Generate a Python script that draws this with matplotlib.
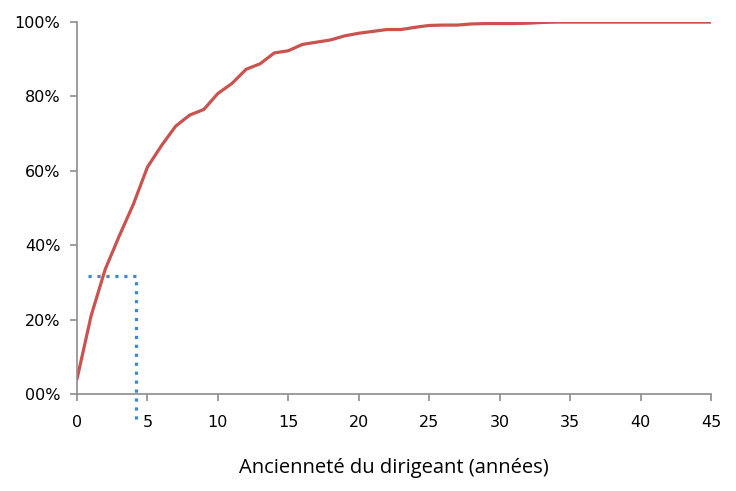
import numpy as np
import matplotlib.pyplot as plt
from matplotlib.ticker import FuncFormatter

# cumulative share of managers by tenure (years)
years = list(range(0, 46))
cum_share = [4, 21, 33.5, 42.5, 51, 61, 66.8, 72, 75, 76.5,
             80.8, 83.5, 87.3, 88.8, 91.7, 92.3, 94, 94.6, 95.2, 96.3,
             97, 97.5, 98, 98, 98.6, 99.1, 99.2, 99.2, 99.5, 99.6,
             99.6, 99.6, 99.7, 99.9, 100, 100, 100, 100, 100, 100,
             100, 100, 100, 100, 100, 100]

# dotted guide line
guide_x = [0.8, 4.2, 4.2]
guide_y = [31.7, 31.7, -7.4]

x_ticks = [0, 5, 10, 15, 20, 25, 30, 35, 40, 45]
y_ticks = [0, 20, 40, 60, 80, 100]

fig = plt.figure(figsize=(7.36, 4.91), dpi=100)
ax = fig.add_axes([0.1046, 0.1976, 0.8614, 0.7574])

ax.plot(years, np.array(cum_share), color='#C9534F', lw=2.3, solid_capstyle='round')
ax.plot(guide_x, guide_y, color='#3F87D4', lw=2.3, linestyle=(0, (1, 1.8)),
        dash_capstyle='butt', clip_on=False)

ax.set_xlim(0, 45)
ax.set_ylim(0, 100)
ax.set_xticks(x_ticks)
ax.set_yticks(y_ticks)
ax.yaxis.set_major_formatter(FuncFormatter(lambda v, p: '%02d%%' % v))

for s in ['top', 'right']:
    ax.spines[s].set_visible(False)
for s in ['left', 'bottom']:
    ax.spines[s].set_color('#8C8C8C')
    ax.spines[s].set_linewidth(1.2)
ax.tick_params(colors='#8C8C8C', length=5, width=1.2, labelcolor='black', labelsize=11.5)
ax.tick_params(axis='x', pad=10)
ax.tick_params(axis='y', pad=7)

ax.set_xlabel('Ancienneté du dirigeant (années)', fontsize=14.5, family='Open Sans', labelpad=20)

plt.savefig('out.png', dpi=100)
